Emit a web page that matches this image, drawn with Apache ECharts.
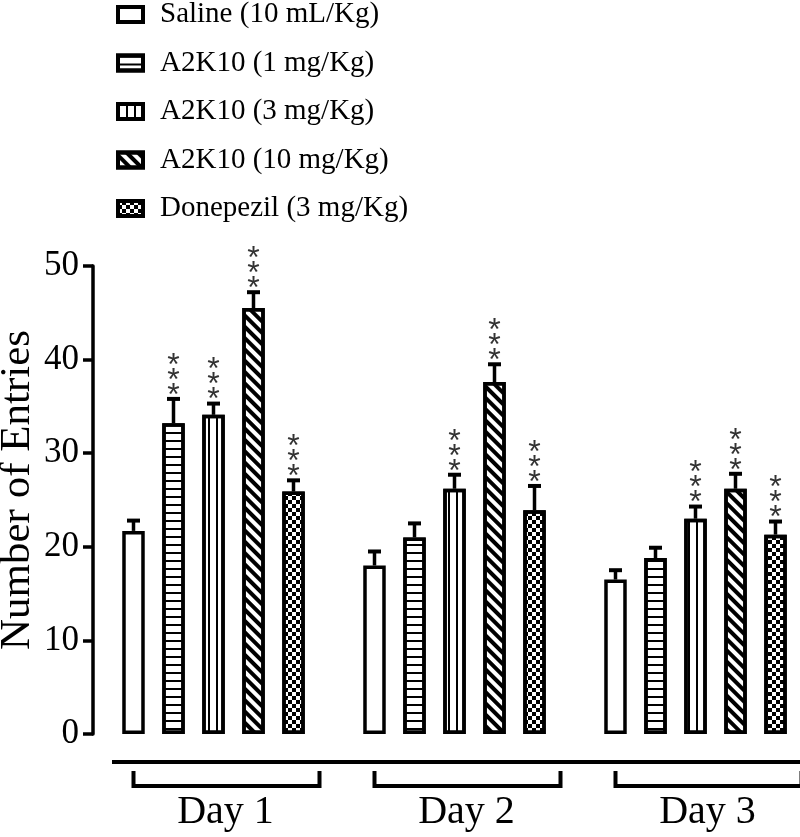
<!DOCTYPE html>
<html>
<head>
<meta charset="utf-8">
<script src="https://cdn.jsdelivr.net/npm/echarts@6/dist/echarts.min.js"></script>
<style>html,body{margin:0;padding:0;background:#fff}#main{width:800px;height:837px}</style>
</head>
<body>
<div id="main"></div>
<script>
// ---- data ----
const days = ['Day 1', 'Day 2', 'Day 3'];
const groupNames = ['Saline (10 mL/Kg)', 'A2K10 (1 mg/Kg)', 'A2K10 (3 mg/Kg)', 'A2K10 (10 mg/Kg)', 'Donepezil (3 mg/Kg)'];
const saline    = [21.7, 18.0, 16.5];
const a2k10_1   = [33.2, 21.0, 18.8];
const a2k10_3   = [34.1, 26.2, 23.0];
const a2k10_10  = [45.5, 37.6, 26.2];
const donepezil = [25.9, 23.9, 21.3];
const salineSem    = [1.1, 1.5, 1.0];
const a2k10_1Sem   = [2.6, 1.5, 1.1];
const a2k10_3Sem   = [1.2, 1.5, 1.3];
const a2k10_10Sem  = [1.7, 1.9, 1.6];
const donepezilSem = [1.2, 2.6, 1.4];
const salineSig    = ['', '', ''];
const a2k10_1Sig   = ['***', '', ''];
const a2k10_3Sig   = ['***', '***', '***'];
const a2k10_10Sig  = ['***', '***', '***'];
const donepezilSig = ['***', '***', '***'];
const yMin = 0, yMax = 50, yStep = 10;
const yTitle = 'Number of Entries';

// ---- styling ----
const FONT = 'Liberation Serif';
const BAR_W = 22.5, BAR_PITCH = 40;
const decals = [
  null,
  { symbol: 'rect', symbolSize: 1, color: '#000', dashArrayX: [1, 0], dashArrayY: [2, 6] },
  { symbol: 'rect', symbolSize: 1, color: '#000', dashArrayX: [2, 6], dashArrayY: [1, 0] },
  { symbol: 'rect', symbolSize: 1, color: '#000', dashArrayX: [1, 0], dashArrayY: [4, 4], rotation: Math.PI / 4 },
  { symbol: 'rect', symbolSize: 1, color: '#000', dashArrayX: [[4, 4], [0, 4, 4, 0]], dashArrayY: [4, 0] }
];
const means = [saline, a2k10_1, a2k10_3, a2k10_10, donepezil];
const sems = [salineSem, a2k10_1Sem, a2k10_3Sem, a2k10_10Sem, donepezilSem];
const sigs = [salineSig, a2k10_1Sig, a2k10_3Sig, a2k10_10Sig, donepezilSig];

const barSeries = groupNames.map((name, i) => {
  const itemStyle = { color: '#fff', borderColor: '#000', borderWidth: 3.5 };
  if (decals[i]) itemStyle.decal = decals[i];
  return {
    name, type: 'bar', data: means[i], barWidth: BAR_W, barGap: '77.8%',
    itemStyle, emphasis: { disabled: true }, silent: true
  };
});

const errData = [];
means.forEach((arr, s) => arr.forEach((m, d) => errData.push([d, m, sems[s][d], s, sigs[s][d]])));

const errSeries = {
  type: 'custom', name: 'err', z: 5, silent: true,
  data: errData.map(r => [r[0], r[1], r[2], r[3]]),
  encode: { x: 0, y: 1 },
  renderItem: (params, api) => {
    const d = api.value(0), m = api.value(1), e = api.value(2), s = api.value(3);
    const sig = errData[params.dataIndex][4];
    const base = api.coord([d, m]);
    const top = api.coord([d, m + e]);
    const x = base[0] + (s - 2) * BAR_PITCH;
    const children = [
      { type: 'line', shape: { x1: x, y1: base[1], x2: x, y2: top[1] }, style: { stroke: '#000', lineWidth: 3.5 } },
      { type: 'line', shape: { x1: x - 6.5, y1: top[1], x2: x + 6.5, y2: top[1] }, style: { stroke: '#000', lineWidth: 4 } }
    ];
    for (let k = 0; k < sig.length; k++) {
      children.push({
        type: 'text',
        style: { text: sig[k], x: x, y: top[1] - 10 - k * 15 + 7, align: 'center', verticalAlign: 'middle',
                 font: '32px "Liberation Sans"', fill: '#333' }
      });
    }
    return { type: 'group', children };
  }
};

const bracketSeries = {
  type: 'custom', name: 'brackets', silent: true, clip: false,
  data: days.map((_, i) => [i, 0]),
  encode: { x: 0, y: 1 },
  renderItem: (params, api) => {
    const c = api.coord([api.value(0), 0]);
    const l = c[0] - 80, r = c[0] + 106, t = c[1] + 37, b = c[1] + 52;
    return { type: 'polyline', shape: { points: [[l, t], [l, b], [r, b], [r, t]] },
             style: { stroke: '#000', lineWidth: 4, fill: null, lineJoin: 'miter' } };
  }
};

const chart = echarts.init(document.getElementById('main'), null, { renderer: 'canvas' });
chart.setOption({
  animation: false,
  backgroundColor: '#fff',
  grid: { left: 93, width: 723, top: 266, bottom: 103, containLabel: false, outerBoundsMode: 'none' },
  legend: {
    data: groupNames, orient: 'vertical', left: 116, top: 0, padding: 0,
    icon: 'rect', itemWidth: 25, itemHeight: 15, itemGap: 19.5,
    itemStyle: { borderWidth: 4, borderColor: '#000' },
    textStyle: { fontFamily: FONT, fontSize: 29, lineHeight: 28, color: '#000', padding: [0, 0, 0, 12] },
    selectedMode: false
  },
  xAxis: {
    type: 'category', data: days,
    axisLine: { show: false }, axisTick: { show: false }, splitLine: { show: false },
    axisLabel: { fontFamily: FONT, fontSize: 40, color: '#000', margin: 58, padding: [0, 0, 0, 24] }
  },
  yAxis: {
    type: 'value', min: yMin, max: yMax, interval: yStep,
    name: yTitle, nameLocation: 'middle', nameGap: 54, nameRotate: 90, nameMoveOverlap: false,
    nameTextStyle: { fontFamily: FONT, fontSize: 43, color: '#000', padding: [0, 0, 0, 20] },
    axisLine: { show: true, lineStyle: { color: '#000', width: 3.5 } },
    axisTick: { show: true, inside: false, length: 10, lineStyle: { color: '#000', width: 3.5 } },
    axisLabel: { fontFamily: FONT, fontSize: 35, color: '#000', margin: 14 },
    splitLine: { show: false }
  },
  graphic: [
    { type: 'line', silent: true, shape: { x1: 112, y1: 762, x2: 800, y2: 762 }, style: { stroke: '#000', lineWidth: 4 } }
  ],
  series: [...barSeries, errSeries, bracketSeries]
});
</script>
</body>
</html>
